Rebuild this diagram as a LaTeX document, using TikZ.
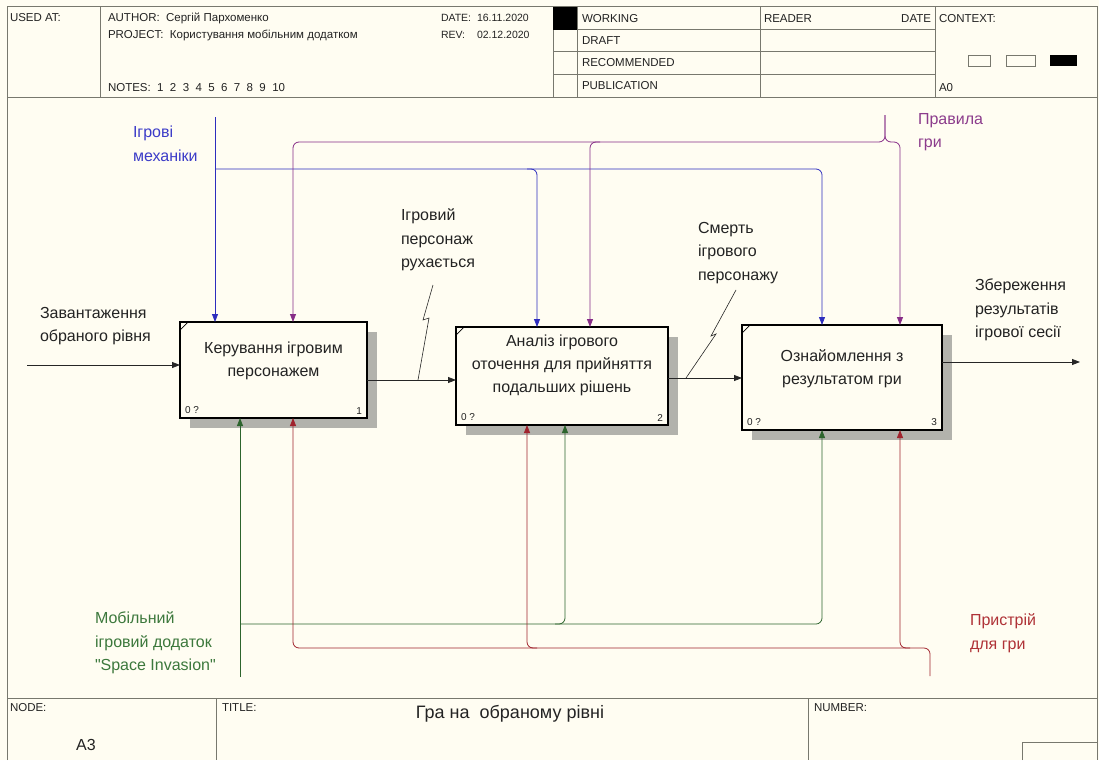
\documentclass[tikz,border=0pt]{standalone}
\usepackage{fontspec}
\setmainfont{Liberation Sans}
\setmonofont{Liberation Sans}
\usetikzlibrary{arrows.meta,calc,shadows}

\definecolor{bg}{RGB}{255,253,242}
\definecolor{frm}{RGB}{120,120,110}
\definecolor{cblue}{RGB}{45,45,190}
\definecolor{cpurple}{RGB}{135,45,135}
\definecolor{cgreen}{RGB}{45,100,45}
\definecolor{cred}{RGB}{160,35,45}
\definecolor{lblue}{RGB}{60,60,200}
\definecolor{lpurple}{RGB}{140,60,140}
\definecolor{lgreen}{RGB}{60,120,60}
\definecolor{lred}{RGB}{175,50,55}
\definecolor{txt}{RGB}{35,35,35}
\definecolor{shade}{RGB}{178,178,172}

\begin{document}
\begin{tikzpicture}[x=1pt,y=-1pt,
  every node/.style={inner sep=0pt,outer sep=0pt,text=txt},
  hdr/.style={font=\fontsize{11.5}{13}\selectfont,anchor=west},
  hdrs/.style={font=\fontsize{10.5}{13}\selectfont,anchor=west},
  lbl/.style={font=\fontsize{16}{23.5}\selectfont,align=left,anchor=west},
  boxtext/.style={font=\fontsize{16}{23}\selectfont,align=center},
  small/.style={font=\fontsize{10}{12}\selectfont},
  abox/.style={draw=black,line width=1.3pt,fill=bg,
    drop shadow={shadow xshift=10pt,shadow yshift=-10pt,fill=shade,opacity=1}},
  frame/.style={draw=frm,line width=1pt},
  tip/.style={-{Triangle[length=8pt,width=6pt]}},
  arrline/.style={draw=black!85,line width=0.8pt},
  cb/.style={draw=cblue,line width=0.8pt},
  cp/.style={draw=cpurple,line width=0.8pt},
  cg/.style={draw=cgreen,line width=0.8pt},
  cr/.style={draw=cred,line width=0.8pt}]

\useasboundingbox (0,0) rectangle (1099,760);
\fill[bg] (0,0) rectangle (1099,760);

% ---------- frame ----------
\draw[frame] (7,760) -- (7,7) -- (1097,7) -- (1097,760);
\draw[frame] (7,97) -- (1097,97);
\draw[frame] (100,7) -- (100,97);
\draw[frame] (553,7) -- (553,97);
\draw[frame] (577,7) -- (577,97);
\draw[frame] (760,7) -- (760,97);
\draw[frame] (935,7) -- (935,97);
\draw[frame] (553,30) -- (935,30);
\draw[frame] (553,52) -- (935,52);
\draw[frame] (553,74) -- (935,74);
\fill[black] (553,7) rectangle (577,30);
\draw[frm,line width=0.8pt] (968,55) rectangle (990,66);
\draw[frm,line width=0.8pt] (1006,55) rectangle (1035,66);
\fill[black] (1050,55) rectangle (1077,66);
\draw[frame] (7,698) -- (1097,698);
\draw[frame] (216,698) -- (216,760);
\draw[frame] (808,698) -- (808,760);
\draw[frame] (1022,760) -- (1022,742) -- (1097,742);

% ---------- header texts ----------
\node[hdr] (usedat) at (10,18) {USED AT:};
\node[hdr] (author) at (108,18) {AUTHOR:\ \ Сергій Пархоменко};
\node[hdr] (project) at (108,35) {PROJECT:\ \ Користування мобільним додатком};
\node[hdr] (notes) at (108,88) {NOTES:\ \ 1\ \ 2\ \ 3\ \ 4\ \ 5\ \ 6\ \ 7\ \ 8\ \ 9\ \ 10};
\node[hdrs] (datel) at (441,18) {DATE:};
\node[hdrs] (datev) at (477,18) {16.11.2020};
\node[hdrs] (revl) at (441,35) {REV:};
\node[hdrs] (revv) at (477,35) {02.12.2020};
\node[hdr] (working) at (582,19) {WORKING};
\node[hdr] (draft) at (582,41) {DRAFT};
\node[hdr] (recom) at (582,63) {RECOMMENDED};
\node[hdr] (public) at (582,86) {PUBLICATION};
\node[hdr] (reader) at (764,19) {READER};
\node[hdr,anchor=east] (rdate) at (931,19) {DATE};
\node[hdr] (context) at (939,19) {CONTEXT:};
\node[hdr] (a0) at (939,88) {A0};

% ---------- footer texts ----------
\node[hdr] (nodel) at (10,708) {NODE:};
\node[font=\fontsize{16}{18}\selectfont] (a3) at (86,745) {A3};
\node[hdr] (titlel) at (222,708) {TITLE:};
\node[font=\fontsize{18}{20}\selectfont] (title) at (510,714) {Гра на\ \ обраному рівні};
\node[hdr] (numberl) at (814,708) {NUMBER:};

% ---------- activity boxes ----------
\node[abox,minimum width=187pt,minimum height=96pt] (b1) at (273.5,370) {};
\node[abox,minimum width=212pt,minimum height=98pt] (b2) at (562,376) {};
\node[abox,minimum width=200pt,minimum height=105pt] (b3) at (842,377.5) {};

\node[boxtext] (t1) at ([yshift=9pt]b1.center) {Керування ігровим\\персонажем};
\node[boxtext] (t2) at ([yshift=11pt]b2.center) {Аналіз ігрового\\оточення для прийняття\\подальших рішень};
\node[boxtext] (t3) at ([yshift=9pt]b3.center) {Ознайомлення з\\результатом гри};

\foreach \b/\n in {b1/1,b2/2,b3/3}{
  \draw[black,line width=0.7pt] ([yshift=-8pt]\b.north west) -- ([xshift=8pt]\b.north west);
  \node[small,anchor=south west] (q\n) at ([shift={(5pt,4pt)}]\b.south west) {0 ?};
  \node[small,anchor=south east] (n\n) at ([shift={(-5pt,4pt)}]\b.south east) {\n};
}

% ---------- inputs / outputs ----------
\coordinate (in1) at (27,365);
\coordinate (out3) at (1080,362);
\draw[arrline,tip] (in1) -- (in1 -| b1.west);
\draw[arrline,tip] ([yshift=-10pt]b1.east) -- ([yshift=-10pt]b1.east -| b2.west);
\draw[arrline,tip] ([yshift=-2pt]b2.east) -- ([yshift=-2pt]b2.east -| b3.west);
\draw[arrline,tip] (b3.east |- out3) -- (out3);

% ---------- labels ----------
\node[lbl] (lin) at (40,326) {Завантаження\\обраного рівня};
\node[lbl] (lmov) at (401,240) {Ігровий\\персонаж\\рухається};
\node[lbl] (ldeath) at (698,253) {Смерть\\ігрового\\персонажу};
\node[lbl] (lout) at (975,310) {Збереження\\результатів\\ігрової сесії};
\node[lbl,text=lblue] (lmech) at (133,144) {Ігрові\\механіки};
\node[lbl,text=lpurple] (lrules) at (918,132) {Правила\\гри};
\node[lbl,text=lgreen] (lapp) at (95,643) {Мобільний\\ігровий додаток\\{\ttfamily"}Space Invasion{\ttfamily"}};
\node[lbl,text=lred] (ldev) at (970,633) {Пристрій\\для гри};

% squiggles
\coordinate (s1a) at (418,380);
\coordinate (s2a) at (686,378);
\draw[arrline,line width=0.6pt] (s1a) -- (429,318) -- (423,320) -- (433,285);
\draw[arrline,line width=0.6pt] (s2a) -- (716,334) -- (711,336) -- (736,290);

% ---------- controls (top) ----------
\coordinate (bTop) at (215,117);
\coordinate (bj) at (215,169);
\coordinate (c1b) at ([xshift=35pt]b1.north west);
\coordinate (c2b) at ([xshift=81pt]b2.north west);
\coordinate (c3b) at ([xshift=80pt]b3.north west);
\draw[cb,tip] (bTop) -- (c1b);
\draw[cb,tip,rounded corners=6pt] (bj) -- (bj -| c3b) -- (c3b);
\draw[cb,tip,rounded corners=6pt] ($(bj -| c2b)+(-10pt,0)$) -- (bj -| c2b) -- (c2b);

\coordinate (pTop) at (885,115);
\coordinate (pj) at (885,142);
\coordinate (c1p) at ([xshift=113pt]b1.north west);
\coordinate (c2p) at ([xshift=134pt]b2.north west);
\coordinate (c3p) at ([xshift=158pt]b3.north west);
\draw[cp,tip,rounded corners=6pt] (pTop) -- (pj) -- (pj -| c1p) -- (c1p);
\draw[cp,tip,rounded corners=6pt] (pTop) -- (pj) -- (pj -| c3p) -- (c3p);
\draw[cp,tip,rounded corners=6pt] ($(pj -| c2p)+(10pt,0)$) -- (pj -| c2p) -- (c2p);

% ---------- mechanisms (bottom) ----------
\coordinate (gBot) at (240,677);
\coordinate (gj) at (240,624);
\coordinate (c1g) at ([xshift=60pt]b1.south west);
\coordinate (c2g) at ([xshift=109pt]b2.south west);
\coordinate (c3g) at ([xshift=80pt]b3.south west);
\draw[cg,tip] (gBot) -- (c1g);
\draw[cg,tip,rounded corners=6pt] (gj) -- (gj -| c3g) -- (c3g);
\draw[cg,tip,rounded corners=6pt] ($(gj -| c2g)+(-10pt,0)$) -- (gj -| c2g) -- (c2g);

\coordinate (rBot) at (930,676);
\coordinate (rj) at (930,648);
\coordinate (c1r) at ([xshift=113pt]b1.south west);
\coordinate (c2r) at ([xshift=71pt]b2.south west);
\coordinate (c3r) at ([xshift=158pt]b3.south west);
\draw[cr,tip,rounded corners=6pt] (rBot) -- (rj) -- (rj -| c1r) -- (c1r);
\draw[cr,tip,rounded corners=6pt] ($(rj -| c3r)+(10pt,0)$) -- (rj -| c3r) -- (c3r);
\draw[cr,tip,rounded corners=6pt] ($(rj -| c2r)+(10pt,0)$) -- (rj -| c2r) -- (c2r);

\end{tikzpicture}
\end{document}
